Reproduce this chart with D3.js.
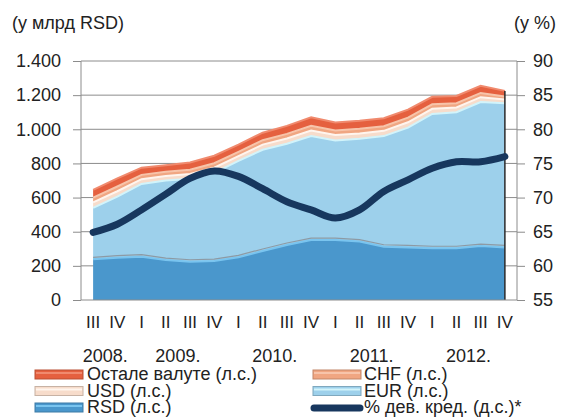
<!DOCTYPE html>
<html>
<head>
<meta charset="utf-8">
<script src="https://cdn.jsdelivr.net/npm/d3@7"></script>
<style>
  body { margin: 0; background: #fff; }
  svg { font-family: "Liberation Sans", Arial, sans-serif; }
  text { fill: #222; }
</style>
</head>
<body>
<script>
var width = 563,
    height = 417;

// quarters III 2008 .. IV 2012
var quarters = ["III","IV","I","II","III","IV","I","II","III","IV","I","II","III","IV","I","II","III","IV"];
// year label, placed between two quarter indexes
var years = [["2008.", 0, 1], ["2009.", 3, 4], ["2010.", 7, 8], ["2011.", 11, 12], ["2012.", 15, 16]];

// bn RSD
var rsd   = [238, 248, 254, 234, 224, 228, 250, 287, 322, 351, 351, 342, 312, 308, 303, 303, 316, 308];
var eur   = [302, 357, 426, 466, 486, 517, 565, 593, 593, 609, 584, 603, 648, 702, 787, 797, 844, 844];
var usd   = [32, 32, 28, 27, 28, 30, 28, 30, 31, 33, 31, 31, 31, 31, 30, 28, 28, 22];
var chf   = [28, 28, 25, 24, 25, 26, 25, 26, 27, 28, 27, 27, 27, 27, 26, 25, 25, 18];
var other = [45, 47, 42, 39, 42, 44, 42, 44, 47, 49, 47, 47, 47, 47, 44, 42, 42, 33];
// % foreign-currency credit (right axis)
var pct   = [64.9, 66.1, 68.2, 70.5, 72.8, 73.9, 73.1, 71.3, 69.4, 68.2, 67.0, 68.2, 70.9, 72.6, 74.3, 75.25, 75.25, 76.0];

var leftTicks = [0, 200, 400, 600, 800, 1000, 1200, 1400];
var rightTicks = [55, 60, 65, 70, 75, 80, 85, 90];

var keys = ["rsd", "eur", "usd", "chf", "other"];
var colors = { rsd: "#4a97cc", eur: "#9dd0eb", usd: "#f7dccb", chf: "#f0a682", other: "#e5603f" };
var edges  = { rsd: "#79c4ef", eur: "#d2f4fb", usd: "#fff5ee", chf: "#f7c4aa", other: "#f08a6e" };

var table = quarters.map(function(q, i) {
  return { i: i, rsd: rsd[i], eur: eur[i], usd: usd[i], chf: chf[i], other: other[i] };
});

var svg = d3.select("body").append("svg")
    .attr("width", width)
    .attr("height", height);

var pLeft = 81, pRight = 517, pTop = 61, pBottom = 300;

var x = d3.scaleBand()
    .domain(d3.range(quarters.length))
    .range([pLeft, pRight]);
var cx = function(i) { return x(i) + x.bandwidth() / 2; };

var y = d3.scaleLinear().domain([0, 1400]).range([pBottom, pTop]);
var y2 = d3.scaleLinear().domain([55, 90]).range([pBottom, pTop]);

var loc = d3.formatLocale({ decimal: ",", thousands: ".", grouping: [3], currency: ["", ""] });
var fmt = loc.format(",d");

// gridlines
svg.append("g").selectAll("line")
  .data(leftTicks.slice(1))
  .enter().append("line")
    .attr("x1", pLeft).attr("x2", pRight)
    .attr("y1", function(d) { return y(d); })
    .attr("y2", function(d) { return y(d); })
    .attr("stroke", "#8c8c8c").attr("stroke-width", 1);

// stacked areas
var series = d3.stack().keys(keys)(table);

var area = d3.area()
    .x(function(d) { return cx(d.data.i); })
    .y0(function(d) { return y(d[0]); })
    .y1(function(d) { return y(d[1]); });

var topLine = d3.line()
    .x(function(d) { return cx(d.data.i); })
    .y(function(d) { return y(d[1]); });

svg.append("g").selectAll("path")
  .data(series)
  .enter().append("path")
    .attr("d", area)
    .attr("fill", function(d) { return colors[d.key]; });

svg.append("g").selectAll("path")
  .data(series)
  .enter().append("path")
    .attr("d", topLine)
    .attr("fill", "none")
    .attr("stroke", function(d) { return edges[d.key]; })
    .attr("stroke-width", 2);

// grey shadow line on top of RSD
svg.append("path")
    .datum(series[0])
    .attr("d", d3.line()
      .x(function(d) { return cx(d.data.i); })
      .y(function(d) { return y(d[1]) - 2; }))
    .attr("fill", "none")
    .attr("stroke", "#8d9aa4")
    .attr("stroke-width", 1.2);

// right edge of the stack
var last = series[series.length - 1][quarters.length - 1];
svg.append("line")
    .attr("x1", cx(quarters.length - 1)).attr("x2", cx(quarters.length - 1))
    .attr("y1", y(0)).attr("y2", y(last[1]))
    .attr("stroke", "#2a2a2a").attr("stroke-width", 1.5);

// % line
svg.append("path")
    .datum(pct)
    .attr("d", d3.line()
      .x(function(d, i) { return cx(i); })
      .y(function(d) { return y2(d); })
      .curve(d3.curveCatmullRom))
    .attr("fill", "none")
    .attr("stroke", "#17375e")
    .attr("stroke-width", 7)
    .attr("stroke-linecap", "round")
    .attr("stroke-linejoin", "round");

// axes
var axL = svg.append("g")
    .attr("transform", "translate(" + pLeft + ",0)")
    .call(d3.axisLeft(y).tickValues(leftTicks).tickFormat(fmt).tickSize(8).tickPadding(12));
var axR = svg.append("g")
    .attr("transform", "translate(" + pRight + ",0)")
    .call(d3.axisRight(y2).tickValues(rightTicks).tickSize(8).tickPadding(8));

[axL, axR].forEach(function(ax) {
  ax.select(".domain").remove();
  ax.selectAll(".tick line").attr("stroke", "#8c8c8c");
  ax.selectAll(".tick text")
    .attr("font-size", 18)
    .attr("font-family", "Liberation Sans, Arial, sans-serif")
    .attr("fill", "#222");
});
axL.append("line").attr("y1", pTop).attr("y2", pBottom).attr("stroke", "#8c8c8c");
axR.append("line").attr("y1", pTop).attr("y2", pBottom).attr("stroke", "#8c8c8c");
svg.append("line")
    .attr("x1", pLeft).attr("x2", pRight)
    .attr("y1", pBottom).attr("y2", pBottom)
    .attr("stroke", "#8c8c8c");

// axis titles
svg.append("text").attr("x", 12).attr("y", 29)
    .attr("font-size", 18).text("(у млрд RSD)");
svg.append("text").attr("x", 514).attr("y", 29)
    .attr("font-size", 18).text("(у %)");

// quarter labels
svg.append("g").selectAll("text")
  .data(quarters)
  .enter().append("text")
    .attr("x", function(d, i) { return cx(i); })
    .attr("y", 328)
    .attr("text-anchor", "middle")
    .attr("font-size", 17)
    .text(function(d) { return d; });

// year labels
svg.append("g").selectAll("text")
  .data(years)
  .enter().append("text")
    .attr("x", function(d) { return (cx(d[1]) + cx(d[2])) / 2; })
    .attr("y", 362)
    .attr("text-anchor", "middle")
    .attr("font-size", 18)
    .text(function(d) { return d[0]; });

// legend
var legend = [
  { label: "Остале валуте (л.с.)", key: "other", col: 0, row: 0 },
  { label: "CHF (л.с.)", key: "chf", col: 1, row: 0 },
  { label: "USD (л.с.)", key: "usd", col: 0, row: 1 },
  { label: "EUR (л.с.)", key: "eur", col: 1, row: 1 },
  { label: "RSD (л.с.)", key: "rsd", col: 0, row: 2 },
  { label: "% дев. кред. (д.с.)*", key: "pct", col: 1, row: 2 }
];
var colX = [35, 313];

var lg = svg.append("g").selectAll("g")
  .data(legend)
  .enter().append("g")
    .attr("transform", function(d) { return "translate(" + colX[d.col] + "," + (380 + d.row * 16.5) + ")"; });

lg.filter(function(d) { return d.key != "pct"; })
  .append("rect")
    .attr("x", 0).attr("y", -10)
    .attr("width", 48).attr("height", 9)
    .attr("fill", function(d) { return colors[d.key]; })
    .attr("stroke", function(d) { return d3.color(colors[d.key]).darker(0.6); })
    .attr("stroke-width", 1);
lg.filter(function(d) { return d.key != "pct"; })
  .append("line")
    .attr("x1", 1).attr("x2", 47)
    .attr("y1", -7).attr("y2", -7)
    .attr("stroke", function(d) { return edges[d.key]; })
    .attr("stroke-width", 2);

lg.filter(function(d) { return d.key == "pct"; })
  .append("line")
    .attr("x1", 1).attr("x2", 47)
    .attr("y1", -5).attr("y2", -5)
    .attr("stroke", "#17375e")
    .attr("stroke-width", 7)
    .attr("stroke-linecap", "round");

lg.append("text")
    .attr("x", function(d) { return d.col == 0 ? 52 : 51; })
    .attr("y", 0)
    .attr("font-size", 18)
    .text(function(d) { return d.label; });
</script>
</body>
</html>
